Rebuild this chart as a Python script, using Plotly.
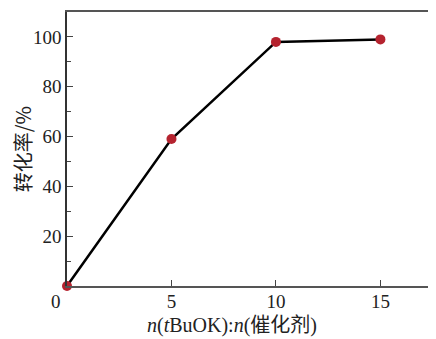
import plotly.graph_objects as go

ratio = [0, 5, 10, 15]
conversion = [0, 59, 98, 99]
x_ticks = [5, 10, 15]
y_ticks = [20, 40, 60, 80, 100]

fig = go.Figure()
fig.add_trace(go.Scatter(
    x=ratio, y=conversion, mode="lines+markers",
    line=dict(color="black", width=2.5),
    marker=dict(color="#B5232F", size=10),
    cliponaxis=False, showlegend=False))

font_num = dict(family="Liberation Serif", size=19, color="#222")
fig.update_layout(
    width=428, height=331,
    margin=dict(l=59, r=0, t=4, b=53),
    plot_bgcolor="white", paper_bgcolor="white",
    xaxis=dict(range=[0, 17.66], tickvals=x_ticks, ticks="inside", ticklen=6,
               tickwidth=1.3, tickcolor="#444", showline=True, linecolor="#555",
               linewidth=1.5, mirror=True, showgrid=False, zeroline=False,
               tickfont=font_num, ticklabelstandoff=-3),
    yaxis=dict(range=[0, 110], tickvals=y_ticks, ticks="inside", ticklen=6,
               tickwidth=1.3, tickcolor="#444", showline=True, linecolor="#333",
               linewidth=1.5, showgrid=False, zeroline=False, tickfont=font_num,
               minor=dict(tickvals=[10, 30, 50, 70, 90], ticks="inside",
                          ticklen=4, tickcolor="#444", tickwidth=1.2)),
)
fig.add_annotation(text="0", xref="paper", yref="paper", x=-0.03, y=-0.058,
                   showarrow=False, font=font_num, xanchor="center", yanchor="middle")
fig.add_annotation(text="<i>n</i>(<i>t</i>BuOK):<i>n</i>(催化剂)", xref="paper", yref="paper",
                   x=0.447, y=-0.145, showarrow=False, xanchor="center", yanchor="middle",
                   font=dict(family="Liberation Serif, Noto Sans CJK SC", size=20, color="#222"))
fig.add_annotation(text="转化率/%", xref="paper", yref="paper", x=-0.121, y=0.5,
                   textangle=-90, showarrow=False, xanchor="center", yanchor="middle",
                   font=dict(family="Noto Sans CJK SC", size=20, color="#222"))
fig.write_html("out.html")
